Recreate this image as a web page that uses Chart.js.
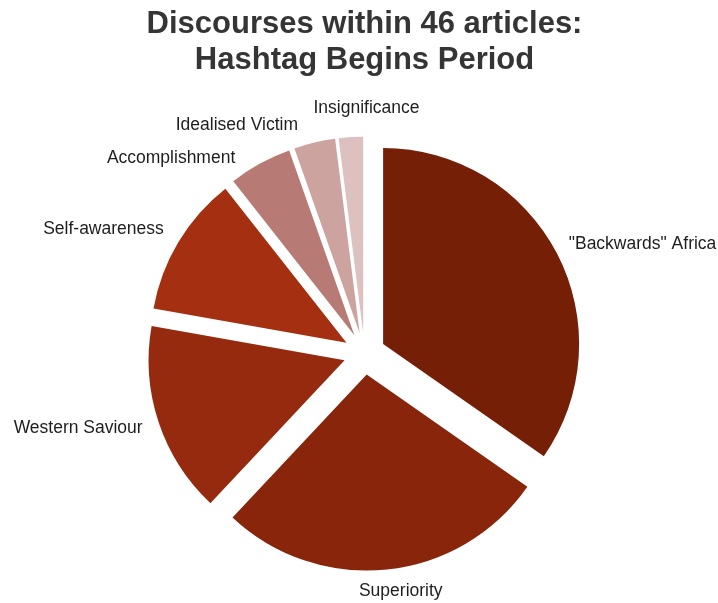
<!DOCTYPE html>
<html lang="en">
<head>
<meta charset="utf-8">
<title>Discourses within 46 articles</title>
<script src="https://cdn.jsdelivr.net/npm/chart.js@4/dist/chart.umd.min.js"></script>
<style>
    html, body { margin: 0; padding: 0; background: #ffffff; }
    #cadre { width: 718px; height: 603px; }
</style>
</head>
<body>
<div id="cadre"><canvas id="chartDiscours" width="718" height="603"></canvas></div>
<script>
// ====================================================================
// Discourses within 46 articles - exploded pie
// ====================================================================

// Données (part de chaque discours, en %)
const titreLignes = ['Discourses within 46 articles:', 'Hashtag Begins Period'];
const categories = ['"Backwards" Africa', 'Superiority', 'Western Saviour', 'Self-awareness', 'Accomplishment', 'Idealised Victim', 'Insignificance'];
const parts = [34.7, 27.3, 15.8, 11.6, 5.2, 3.4, 2.0];
const couleurs = ['#761f07', '#88250a', '#962a0e', '#a52f11', '#b87a74', '#cca39f', '#dcc1c0'];

// Réglages de mise en page des étiquettes (décalage en degrés / en px)
const decalageAngle = [1, -1.7, 0.7, -1, -10.3, -11.5, 4];
const decalageRayon = [-1, -7, -2, 3, 4.5, 5, -2];

const POLICE = '"Liberation Sans", Arial, Helvetica, sans-serif';
const RAYON = 196;
const ECART = 21;          // éclatement des parts
const RAYON_ETIQ = 238;    // distance des étiquettes au centre

/**
 * Écarter chaque part le long de sa bissectrice
 */
const pluginEclatement = {
    id: 'eclatement',
    afterDatasetUpdate(chart, args) {
        const meta = chart.getDatasetMeta(args.index);
        meta.data.forEach(arc => {
            const milieu = (arc.startAngle + arc.endAngle) / 2;
            arc.x += Math.cos(milieu) * ECART;
            arc.y += Math.sin(milieu) * ECART;
        });
    }
};

/**
 * Étiquettes des catégories autour du camembert
 */
const pluginEtiquettes = {
    id: 'etiquettes',
    afterDatasetsDraw(chart) {
        const ctx = chart.ctx;
        const area = chart.chartArea;
        const cx = (area.left + area.right) / 2;
        const cy = (area.top + area.bottom) / 2;
        const meta = chart.getDatasetMeta(0);

        ctx.save();
        ctx.font = '17.5px ' + POLICE;
        ctx.fillStyle = '#1e1e1e';
        ctx.textAlign = 'center';
        ctx.textBaseline = 'middle';

        meta.data.forEach((arc, i) => {
            const angle = (arc.startAngle + arc.endAngle) / 2 + decalageAngle[i] * Math.PI / 180;
            const r = RAYON_ETIQ + decalageRayon[i];
            const texte = chart.data.labels[i];
            const demiL = ctx.measureText(texte).width / 2;
            const demiH = 9;
            const x = cx + Math.cos(angle) * r + Math.cos(angle) * demiL;
            const y = cy + Math.sin(angle) * r + Math.sin(angle) * demiH;
            ctx.fillText(texte, x, y);
        });
        ctx.restore();
    }
};

const ctx = document.getElementById('chartDiscours').getContext('2d');

const chartDiscours = new Chart(ctx, {
    type: 'pie',
    data: {
        labels: categories,
        datasets: [{
            data: parts,
            backgroundColor: couleurs,
            borderWidth: 0,
            offset: 0,
            hoverOffset: 0
        }]
    },
    options: {
        responsive: false,
        animation: false,
        events: [],
        radius: RAYON,
        layout: {
            padding: { left: 11, right: 0, top: 0, bottom: 0 }
        },
        plugins: {
            legend: { display: false },
            tooltip: { enabled: false },
            title: {
                display: true,
                text: titreLignes,
                color: '#353535',
                font: { family: POLICE, size: 31, weight: 'bold', lineHeight: 1.15 },
                padding: { top: 7, bottom: 26 }
            }
        }
    },
    plugins: [pluginEclatement, pluginEtiquettes]
});
</script>
</body>
</html>
